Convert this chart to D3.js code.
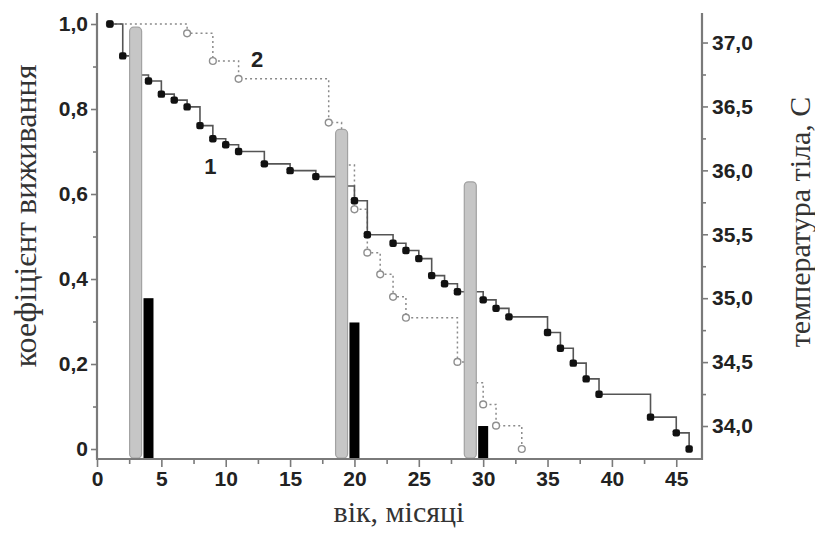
<!DOCTYPE html>
<html><head><meta charset="utf-8">
<script src="https://cdn.jsdelivr.net/npm/d3@7"></script>
<style>body{margin:0;background:#fff}</style>
</head><body><svg id="c" width="815" height="533"></svg>
<script>
// Curve 1 (solid): age in months vs survival coefficient
const months1 = [1,2,3,4,5,6,7,8,9,10,11,13,15,17,19,20,21,23,24,25,26,27,28,30,31,32,35,36,37,38,39,43,45,46];
const surv1   = [1.0,0.925,0.88,0.866,0.835,0.821,0.805,0.761,0.730,0.716,0.700,0.671,0.655,0.641,0.619,0.584,0.504,0.484,0.467,0.448,0.408,0.389,0.370,0.351,0.331,0.311,0.274,0.237,0.202,0.165,0.129,0.075,0.038,0.0];
// Curve 2 (dotted)
const months2 = [1,7,9,11,18,19,20,21,22,23,24,28,29,30,31,33];
const surv2   = [1.0,0.978,0.913,0.871,0.768,0.668,0.564,0.462,0.411,0.358,0.309,0.205,0.156,0.105,0.055,0.0];
// Body temperature bars
const grayBarMonths  = [3,19,29];
const grayBarTemps   = [37.12,36.32,35.91];
const blackBarMonths = [4,20,30];
const blackBarTemps  = [35.0,34.81,34.0];
// Ticks
const xTicks = [0,5,10,15,20,25,30,35,40,45];
const xMinor = [2.5,7.5,12.5,17.5,22.5,27.5,32.5,37.5,42.5];
const yLeftTicks = [0,0.2,0.4,0.6,0.8,1.0];
const yLeftMinor = [0.1,0.3,0.5,0.7,0.9];
const yRightTicks = [34.0,34.5,35.0,35.5,36.0,36.5,37.0];
const yRightMinor = [34.25,34.75,35.25,35.75,36.25,36.75];
const curveLabels = ["1","2"];

const svg = d3.select("#c");
const L = 97, R = 702, B = 459, T = 13;
const x = d3.scaleLinear().domain([0,47]).range([L,R]);
const y = d3.scaleLinear().domain([-0.0235,1.0259]).range([B,T]);
const yT = d3.scaleLinear().domain([33.742,37.231]).range([B,T]);

const fmt = d => d===0 ? "0" : d3.format(".1f")(d).replace(".",",");

// curve 2 (dotted)
const pts2 = months2.map((m,i)=>[x(m),y(surv2[i])]);
svg.append("path").attr("d", d3.line().curve(d3.curveStepAfter)(pts2))
  .attr("fill","none").attr("stroke","#8a8a8a").attr("stroke-width",1.5).attr("stroke-dasharray","2,3");
svg.selectAll(".m2").data(pts2).join("circle").attr("cx",d=>d[0]).attr("cy",d=>d[1]).attr("r",3.4)
  .attr("fill","#fff").attr("stroke","#8f8f8f").attr("stroke-width",1.4);

// curve 1 (solid)
const pts1 = months1.map((m,i)=>[x(m),y(surv1[i])]);
svg.append("path").attr("d", d3.line().curve(d3.curveStepAfter)(pts1))
  .attr("fill","none").attr("stroke","#555").attr("stroke-width",1.6);
svg.selectAll(".m1").data(pts1).join("rect").attr("x",d=>d[0]-3.7).attr("y",d=>d[1]-3.7)
  .attr("width",7.4).attr("height",7.4).attr("rx",2.2).attr("fill","#111");

// bars
svg.selectAll(".gb").data(grayBarMonths).join("rect")
  .attr("x",(d)=>x(d)-6).attr("width",12)
  .attr("y",(d,i)=>yT(grayBarTemps[i])).attr("height",(d,i)=>B-1-yT(grayBarTemps[i]))
  .attr("rx",4).attr("fill","#c6c6c6").attr("stroke","#a2a2a2").attr("stroke-width",1.2);
svg.selectAll(".bb").data(blackBarMonths).join("rect")
  .attr("x",(d)=>x(d)-5).attr("width",10)
  .attr("y",(d,i)=>yT(blackBarTemps[i])).attr("height",(d,i)=>B-yT(blackBarTemps[i]))
  .attr("fill","#000");

// axes
const axCol = "#7a7a7a";
function styleAxis(g){
  g.select(".domain").remove();
  g.selectAll(".tick line").attr("stroke",axCol).attr("stroke-width",1.6);
  g.selectAll(".tick text").attr("fill","#222").attr("font-family","Liberation Sans, Arial, sans-serif")
    .attr("font-weight","bold").attr("font-size",21);
}
svg.append("g").attr("transform",`translate(0,${B})`)
  .call(d3.axisBottom(x).tickValues(xTicks).tickSize(8).tickPadding(4).tickFormat(d3.format("d"))).call(styleAxis);
svg.append("g").attr("transform",`translate(0,${B})`)
  .call(d3.axisBottom(x).tickValues(xMinor).tickSize(5).tickFormat("")).call(styleAxis);
svg.append("g").attr("transform",`translate(${L},0)`)
  .call(d3.axisLeft(y).tickValues(yLeftTicks).tickSize(6).tickPadding(3).tickFormat(fmt)).call(styleAxis);
svg.append("g").attr("transform",`translate(${L},0)`)
  .call(d3.axisLeft(y).tickValues(yLeftMinor).tickSize(4).tickFormat("")).call(styleAxis);
svg.append("g").attr("transform",`translate(${R},0)`)
  .call(d3.axisRight(yT).tickValues(yRightTicks).tickSize(6).tickPadding(4).tickFormat(fmt)).call(styleAxis);
svg.append("g").attr("transform",`translate(${R},0)`)
  .call(d3.axisRight(yT).tickValues(yRightMinor).tickSize(4).tickFormat("")).call(styleAxis);
// axis lines
svg.append("path").attr("d",`M${L},${T}V${B}H${R}V${T}`).attr("fill","none").attr("stroke",axCol).attr("stroke-width",2.2);

// curve labels
svg.append("text").attr("x",x(8.8)).attr("y",y(0.647)).text(curveLabels[0])
  .attr("font-family","Liberation Sans, Arial, sans-serif").attr("font-weight","bold").attr("font-size",22).attr("fill","#222").attr("text-anchor","middle");
svg.append("text").attr("x",x(12.43)).attr("y",y(0.899)).text(curveLabels[1])
  .attr("font-family","Liberation Sans, Arial, sans-serif").attr("font-weight","bold").attr("font-size",22).attr("fill","#222").attr("text-anchor","middle");

// titles
const serif = "Liberation Serif, Times New Roman, serif";
svg.append("text").attr("x",399).attr("y",522).attr("text-anchor","middle")
  .attr("font-family",serif).attr("font-size",30).attr("fill","#333").text("вік, місяці");
svg.append("text").attr("transform","translate(36,216) rotate(-90)").attr("text-anchor","middle")
  .attr("font-family",serif).attr("font-size",32).attr("fill","#333").text("коефіцієнт виживання");
svg.append("text").attr("transform","translate(810,222) rotate(-90)").attr("text-anchor","middle")
  .attr("font-family",serif).attr("font-size",30).attr("fill","#333").text("температура тіла, С");
</script></body></html>
